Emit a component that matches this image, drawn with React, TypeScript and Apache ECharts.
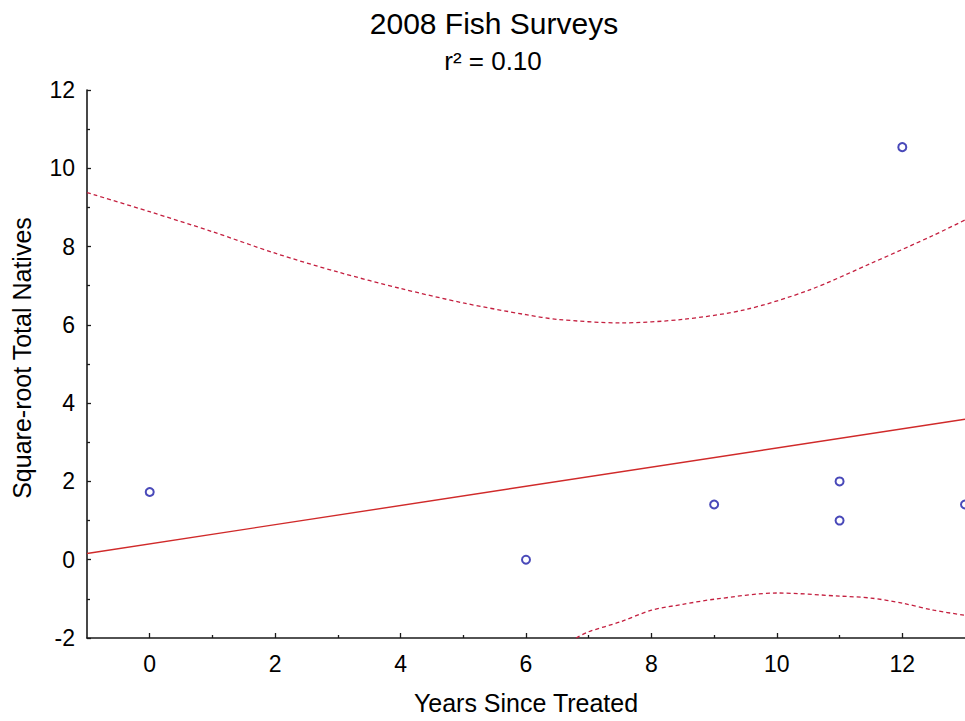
import React, { useEffect, useRef } from "react";
import * as echarts from "echarts";

const titleText = "2008 Fish Surveys";
const subtitleText = "r\u00B2 = 0.10";
const xAxisName = "Years Since Treated";
const yAxisName = "Square-root Total Natives";

const xMin = -1;
const xMax = 13;
const yMin = -2;
const yMax = 12;
const yInterval = 2;
const xTickValues = [0, 2, 4, 6, 8, 10, 12];
const xMinorTickValues = [1, 3, 5, 7, 9, 11];

const obsYears = [0, 6, 9, 11, 11, 12, 13];
const obsValues = [1.73, 0, 1.41, 2.0, 1.0, 10.54, 1.41];

const fitYears = [-1, 13];
const fitValues = [0.16, 3.59];

const upperYears = [-1, 0, 1, 2, 3, 4, 5, 6, 6.5, 7.5, 8.5, 9.5, 10.5, 11.5, 12.5, 13];
const upperValues = [9.38, 8.89, 8.38, 7.83, 7.35, 6.93, 6.56, 6.26, 6.14, 6.05, 6.14, 6.39, 6.88, 7.57, 8.29, 8.68];

const lowerYears = [6.8, 7, 7.5, 8, 8.5, 9, 10, 11, 11.5, 12, 12.5, 13];
const lowerValues = [-2, -1.84, -1.59, -1.29, -1.14, -1.01, -0.85, -0.93, -0.98, -1.11, -1.29, -1.42];

const FONT = "'Liberation Sans', Arial, sans-serif";
const TEXT_COLOR = "#000";
const AXIS_COLOR = "#1a1a1a";
const FIT_COLOR = "#d02a2a";
const BAND_COLOR = "#c41f3f";
const POINT_COLOR = "#1c1ca8";

const pairs = (xs: number[], ys: number[]) => xs.map((x, i) => [x, ys[i]]);

export default function App() {
  const ref = useRef<HTMLDivElement>(null);
  useEffect(() => {
    if (!ref.current) return;
    const chart = echarts.init(ref.current, null, { renderer: "svg" });
    chart.setOption({
      animation: false,
      backgroundColor: "#fff",
      title: [
        {
          text: titleText,
          left: 489,
          top: 3,
          textAlign: "center",
          textStyle: { fontFamily: FONT, fontSize: 30, fontWeight: "normal", color: TEXT_COLOR },
        },
        {
          text: subtitleText,
          left: 488,
          top: 43,
          textAlign: "center",
          textStyle: { fontFamily: FONT, fontSize: 26, fontWeight: "normal", color: TEXT_COLOR },
        },
      ],
      grid: { left: 87, right: -2, top: 90, bottom: 83, containLabel: false },
      xAxis: [
        {
          type: "value",
          min: xMin,
          max: xMax,
          name: xAxisName,
          nameLocation: "middle",
          nameGap: 52,
          nameTextStyle: { fontFamily: FONT, fontSize: 25, color: TEXT_COLOR },
          axisLine: { show: true, onZero: false, lineStyle: { color: AXIS_COLOR, width: 1.6 } },
          axisTick: { show: true, inside: true, length: 5, customValues: xTickValues, lineStyle: { color: AXIS_COLOR, width: 1.3 } },
          axisLabel: { customValues: xTickValues, fontFamily: FONT, fontSize: 23, color: TEXT_COLOR, margin: 14 },
          splitLine: { show: false },
        },
        {
          type: "value",
          min: xMin,
          max: xMax,
          position: "bottom",
          axisLine: { show: false, onZero: false },
          axisTick: { show: true, inside: true, length: 3, customValues: xMinorTickValues, lineStyle: { color: AXIS_COLOR, width: 1.3 } },
          axisLabel: { show: false },
          splitLine: { show: false },
        },
      ],
      yAxis: {
        type: "value",
        min: yMin,
        max: yMax,
        interval: yInterval,
        name: yAxisName,
        nameLocation: "middle",
        nameGap: 53,
        nameTextStyle: { fontFamily: FONT, fontSize: 25, color: TEXT_COLOR, padding: [0, 0, 0, 12] },
        axisLine: { show: true, onZero: false, lineStyle: { color: AXIS_COLOR, width: 1.6 } },
        axisTick: { show: true, inside: true, length: 4, lineStyle: { color: AXIS_COLOR, width: 1.3 } },
        minorTick: { show: true, splitNumber: 2, length: 3, lineStyle: { color: AXIS_COLOR, width: 1.3 } },
        axisLabel: { fontFamily: FONT, fontSize: 23, color: TEXT_COLOR, margin: 12 },
        splitLine: { show: false },
        minorSplitLine: { show: false },
      },
      series: [
        {
          type: "line",
          data: pairs(fitYears, fitValues),
          showSymbol: false,
          lineStyle: { color: FIT_COLOR, width: 1.4 },
          z: 3,
        },
        {
          type: "line",
          data: pairs(upperYears, upperValues),
          showSymbol: false,
          smooth: 0.3,
          lineStyle: { color: BAND_COLOR, width: 1.3, type: [4, 3] },
          z: 3,
        },
        {
          type: "line",
          data: pairs(lowerYears, lowerValues),
          showSymbol: false,
          smooth: 0.3,
          lineStyle: { color: BAND_COLOR, width: 1.3, type: [4, 3] },
          z: 3,
        },
        {
          type: "scatter",
          data: pairs(obsYears, obsValues),
          symbol: "emptyCircle",
          symbolSize: 8,
          clip: false,
          itemStyle: { color: POINT_COLOR, borderColor: POINT_COLOR, borderWidth: 1.4 },
          z: 4,
        },
      ],
    });
    return () => chart.dispose();
  }, []);
  return (
    <div
      ref={ref}
      style={{ position: "absolute", left: 0, top: 0, width: 965, height: 721, background: "#fff" }}
    />
  );
}
